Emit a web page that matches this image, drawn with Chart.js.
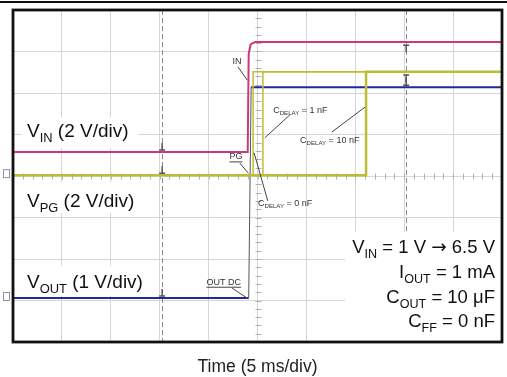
<!DOCTYPE html>
<html>
<head>
<meta charset="utf-8">
<script src="https://cdn.jsdelivr.net/npm/chart.js@4.4.1/dist/chart.umd.min.js"></script>
<style>
  html, body { margin: 0; padding: 0; background: #fff; }
  #wrap { width: 507px; height: 377px; }
</style>
</head>
<body>
<div id="wrap"><canvas id="scope" width="507" height="377"></canvas></div>
<script>
// scope screen measured in divisions: 10 across, 8 up
const vinX = [0, 4.80, 4.82, 4.86, 4.95, 10];
const vinY = [4.58, 4.58, 6.95, 7.17, 7.23, 7.23];
const voutX = [0, 4.82, 4.87, 10];
const voutY = [1.06, 1.06, 6.14, 6.14];
const pgY = [4.02, 4.02, 6.51, 6.51];
const pg0X = [0, 4.91, 4.91, 10];   // C_DELAY = 0 nF
const pg1X = [0, 5.11, 5.11, 10];   // C_DELAY = 1 nF
const pg10X = [0, 7.22, 7.22, 10];  // C_DELAY = 10 nF
const cursorX = [3.05, 8.04];

const FONT = '"Liberation Sans", Arial, sans-serif';
const pts = (xs, ys) => xs.map((v, i) => ({ x: v, y: ys[i] }));

// draws text with subscripts, parts = [[text, isSub, fontFamily], ...]
function rich(ctx, parts, x, y, size, align, color) {
  const sub = size * 0.68;
  const fontOf = p => `${p[1] ? sub : size}px ${p[2] || FONT}`;
  let w = 0;
  parts.forEach(p => { ctx.font = fontOf(p); w += ctx.measureText(p[0]).width; });
  let cx = align === 'right' ? x - w : align === 'center' ? x - w / 2 : x;
  ctx.fillStyle = color || '#111';
  ctx.textAlign = 'left';
  ctx.textBaseline = 'alphabetic';
  parts.forEach(p => {
    ctx.font = fontOf(p);
    ctx.fillText(p[0], cx, p[1] ? y + size * 0.27 : y);
    cx += ctx.measureText(p[0]).width;
  });
}

const scopeDecor = {
  id: 'scopeDecor',
  beforeDatasetsDraw(chart) {
    const { ctx, chartArea: a, scales: { x, y } } = chart;
    ctx.save();
    // cursor lines
    ctx.strokeStyle = '#8a8a8a';
    ctx.lineWidth = 1;
    ctx.setLineDash([5, 3]);
    cursorX.forEach(c => {
      const px = Math.round(x.getPixelForValue(c)) + 0.5;
      ctx.beginPath(); ctx.moveTo(px, a.top); ctx.lineTo(px, a.bottom); ctx.stroke();
    });
    ctx.setLineDash([]);
    // minor ticks on the centre axes
    ctx.strokeStyle = '#b0b0b0';
    const cx = Math.round(x.getPixelForValue(5)) + 0.5;
    for (let v = 0.2; v < 8; v += 0.2) {
      const py = Math.round(y.getPixelForValue(v)) + 0.5;
      ctx.beginPath(); ctx.moveTo(cx - 3, py); ctx.lineTo(cx + 3, py); ctx.stroke();
    }
    const cy = Math.round(y.getPixelForValue(4)) + 0.5;
    for (let d = 0.2; d < 10; d += 0.2) {
      const px = Math.round(x.getPixelForValue(d)) + 0.5;
      ctx.beginPath(); ctx.moveTo(px, cy - 3); ctx.lineTo(px, cy + 3); ctx.stroke();
    }
    // white boxes behind the labels
    ctx.fillStyle = '#fff';
    ctx.fillRect(22, 117, 116, 31);
    ctx.fillRect(22, 182, 118, 31);
    ctx.fillRect(22, 266, 126, 30);
    ctx.fillRect(345, 232, a.right - 345, a.bottom - 232);
    ctx.restore();
  },
  afterDatasetsDraw(chart) {
    const { ctx, scales: { x, y } } = chart;
    const P = (d, v) => [x.getPixelForValue(d), y.getPixelForValue(v)];
    ctx.save();
    ctx.strokeStyle = '#444';
    ctx.lineWidth = 1;
    const lead = (d1, v1, d2, v2) => {
      const p = P(d1, v1), q = P(d2, v2);
      ctx.beginPath(); ctx.moveTo(p[0], p[1]); ctx.lineTo(q[0], q[1]); ctx.stroke();
    };
    lead(4.60, 6.63, 4.79, 6.31);   // IN
    lead(4.64, 4.31, 4.81, 4.07);   // PG
    lead(4.48, 1.30, 4.81, 1.04);   // OUT DC
    lead(5.15, 4.92, 5.66, 5.47);   // 1 nF
    lead(6.52, 5.06, 7.20, 5.66);   // 10 nF
    lead(4.93, 4.56, 5.21, 3.40);   // 0 nF

    const small = (parts, d, v, align, underline) => {
      const p = P(d, v);
      rich(ctx, parts, p[0], p[1], 9, align, '#333');
      if (underline) {
        ctx.font = `9px ${FONT}`;
        const w = ctx.measureText(parts.map(t => t[0]).join('')).width;
        const x0 = align === 'center' ? p[0] - w / 2 : p[0];
        ctx.beginPath(); ctx.moveTo(x0, p[1] + 2.5); ctx.lineTo(x0 + w, p[1] + 2.5); ctx.stroke();
      }
    };
    small([['IN']], 4.58, 6.70, 'center', false);
    small([['PG']], 4.56, 4.40, 'center', true);
    small([['OUT DC']], 4.31, 1.38, 'center', true);
    small([['C'], ['DELAY', true], [' = 1 nF']], 5.32, 5.52, 'left');
    small([['C'], ['DELAY', true], [' = 10 nF']], 5.87, 4.80, 'left');
    small([['C'], ['DELAY', true], [' = 0 nF']], 5.01, 3.28, 'left');

    // ground / trigger markers
    ctx.strokeStyle = '#555';
    ctx.lineWidth = 1.5;
    const mark = (d, v, up) => {
      const p = P(d, v);
      const s = up ? -1 : 1;
      ctx.beginPath();
      ctx.moveTo(p[0], p[1] + s * 2); ctx.lineTo(p[0], p[1] + s * 9);
      ctx.moveTo(p[0] - 3, p[1] + s * 2); ctx.lineTo(p[0] + 3, p[1] + s * 2);
      ctx.stroke();
    };
    mark(8.04, 7.20, false);
    mark(8.04, 6.48, false);
    mark(8.04, 6.14, true);
    mark(3.05, 4.58, true);
    mark(3.05, 4.02, true);
    mark(3.05, 1.06, true);
    ctx.restore();
  },
  afterDraw(chart) {
    const { ctx, chartArea: a, scales: { y } } = chart;
    ctx.save();
    // top rule of the page
    ctx.fillStyle = '#111';
    ctx.fillRect(0, 1, 507, 2);
    // screen frame
    ctx.strokeStyle = '#111';
    ctx.lineWidth = 2.8;
    ctx.strokeRect(a.left, a.top, a.right - a.left, a.bottom - a.top);
    // channel level tags on the left
    ctx.strokeStyle = '#9a8aa8';
    ctx.lineWidth = 1;
    [4.02, 1.06].forEach(v => {
      const py = y.getPixelForValue(v);
      ctx.strokeRect(3.5, py - 5.5, 6, 8);
    });
    // channel labels
    rich(ctx, [['V'], ['IN', true], [' (2 V/div)']], 27, 137, 19);
    rich(ctx, [['V'], ['PG', true], [' (2 V/div)']], 27, 207, 19);
    rich(ctx, [['V'], ['OUT', true], [' (1 V/div)']], 27, 288, 19);
    // conditions
    rich(ctx, [['V'], ['IN', true], [' = 1 V '], ['\u2192', false, '"DejaVu Sans", sans-serif'], [' 6.5 V']], 495, 253, 18.5, 'right');
    rich(ctx, [['I'], ['OUT', true], [' = 1 mA']], 495, 278, 18.5, 'right');
    rich(ctx, [['C'], ['OUT', true], [' = 10 \u03bcF']], 495, 303, 18.5, 'right');
    rich(ctx, [['C'], ['FF', true], [' = 0 nF']], 495, 327, 18.5, 'right');
    // time base
    rich(ctx, [['Time (5 ms/div)']], (a.left + a.right) / 2, 372, 17.5, 'center', '#222');
    ctx.restore();
  }
};

const pink = '#c93a7c';
const blue = '#1f2a9a';
const olive = '#bdbd32';

new Chart(document.getElementById('scope'), {
  type: 'scatter',
  data: {
    datasets: [
      { label: 'VIN', data: pts(vinX, vinY), borderColor: pink, borderWidth: 2 },
      { label: 'PG 10nF', data: pts(pg10X, pgY), borderColor: olive, borderWidth: 2.5 },
      { label: 'PG 1nF', data: pts(pg1X, pgY), borderColor: olive, borderWidth: 1.5 },
      { label: 'PG 0nF', data: pts(pg0X, pgY), borderColor: olive, borderWidth: 1.5 },
      {
        label: 'VOUT', data: pts(voutX, voutY), borderColor: blue, borderWidth: 2,
        segment: {
          borderColor: c => (c.p0DataIndex === 1 ? '#555' : undefined),
          borderWidth: c => (c.p0DataIndex === 1 ? 1 : undefined)
        }
      }
    ]
  },
  options: {
    responsive: false,
    animation: false,
    showLine: true,
    elements: { point: { radius: 0, hoverRadius: 0 }, line: { tension: 0 } },
    layout: { padding: { left: 13, right: 5, top: 10, bottom: 35 } },
    plugins: { legend: { display: false }, tooltip: { enabled: false } },
    scales: {
      x: {
        type: 'linear', min: 0, max: 10,
        ticks: { display: false, stepSize: 1 },
        grid: { color: '#d6d6d6', drawTicks: false, lineWidth: 1 },
        border: { display: false }
      },
      y: {
        type: 'linear', min: 0, max: 8,
        ticks: { display: false, stepSize: 1 },
        grid: { color: '#d6d6d6', drawTicks: false, lineWidth: 1 },
        border: { display: false }
      }
    }
  },
  plugins: [scopeDecor]
});
</script>
</body>
</html>
